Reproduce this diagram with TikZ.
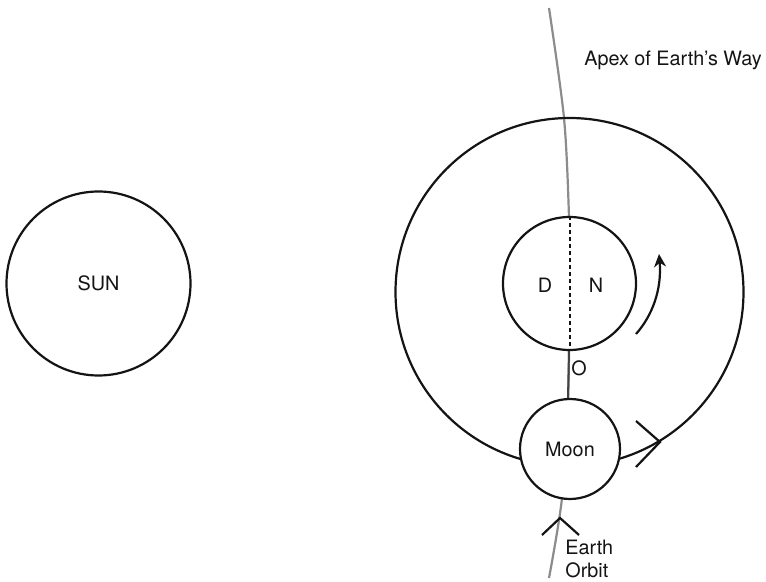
\documentclass[tikz,border=0pt]{standalone}
\usepackage{fontspec}
\setsansfont{TeX Gyre Heros}
\usetikzlibrary{arrows.meta}
\definecolor{orbitgray}{HTML}{8C8C8C}
\definecolor{inkblack}{HTML}{141414}

\begin{document}
\begin{tikzpicture}[x=0.5pt,y=-0.5pt,font=\sffamily\fontsize{9.9}{11.5}\selectfont,
  body/.style={draw=inkblack,line width=1.1pt,circle,inner sep=0pt,fill=white,text=inkblack},
  lbl/.style={inner sep=0pt,text=inkblack},
  tick/.style={draw=inkblack,line width=1.1pt}]
\useasboundingbox (0,0) rectangle (766,582);
% earth's way
\draw[orbitgray,line width=1.1pt] plot[smooth] coordinates {(549,8) (564,118) (569,217) (569.5,283) (569,350) (568,399) (562,498) (549,578)};
\draw[inkblack!80,line width=1pt] (569,350) -- (568,399);
\node[lbl] (apex) at (673,60) {Apex of Earth's Way};
% sun
\node[body,minimum size=92pt] (sun) at (98.5,283.5) {SUN};
% moon's orbit and the earth
\node[draw=inkblack,line width=1.1pt,circle,inner sep=0pt,minimum size=174pt] (moonorbit) at (569.5,292) {};
\node[body,minimum size=66.5pt] (earth) at (569.5,283.5) {};
\draw[inkblack,line width=1pt,dash pattern=on 2pt off 1.5pt] (earth.north) -- (earth.south);
\node[lbl] (day) at (545,285) {D};
\node[lbl] (night) at (596,285) {N};
\node[lbl] (obs) at (579,368) {O};
\draw[tick,-{Stealth[length=6.5pt,width=6pt]}] (636,334) .. controls (652,316) and (662,290) .. (659,254);
% moon
\node[body,minimum size=50pt] (moon) at (570,449) {Moon};
\draw[tick] (636,421) -- (660,442) -- (636,467);
\draw[tick] (542,535) -- (560,518) -- (579,535);
\node[lbl,anchor=west,align=left] (orbit) at (565,559) {Earth\\Orbit};
\end{tikzpicture}
\end{document}
